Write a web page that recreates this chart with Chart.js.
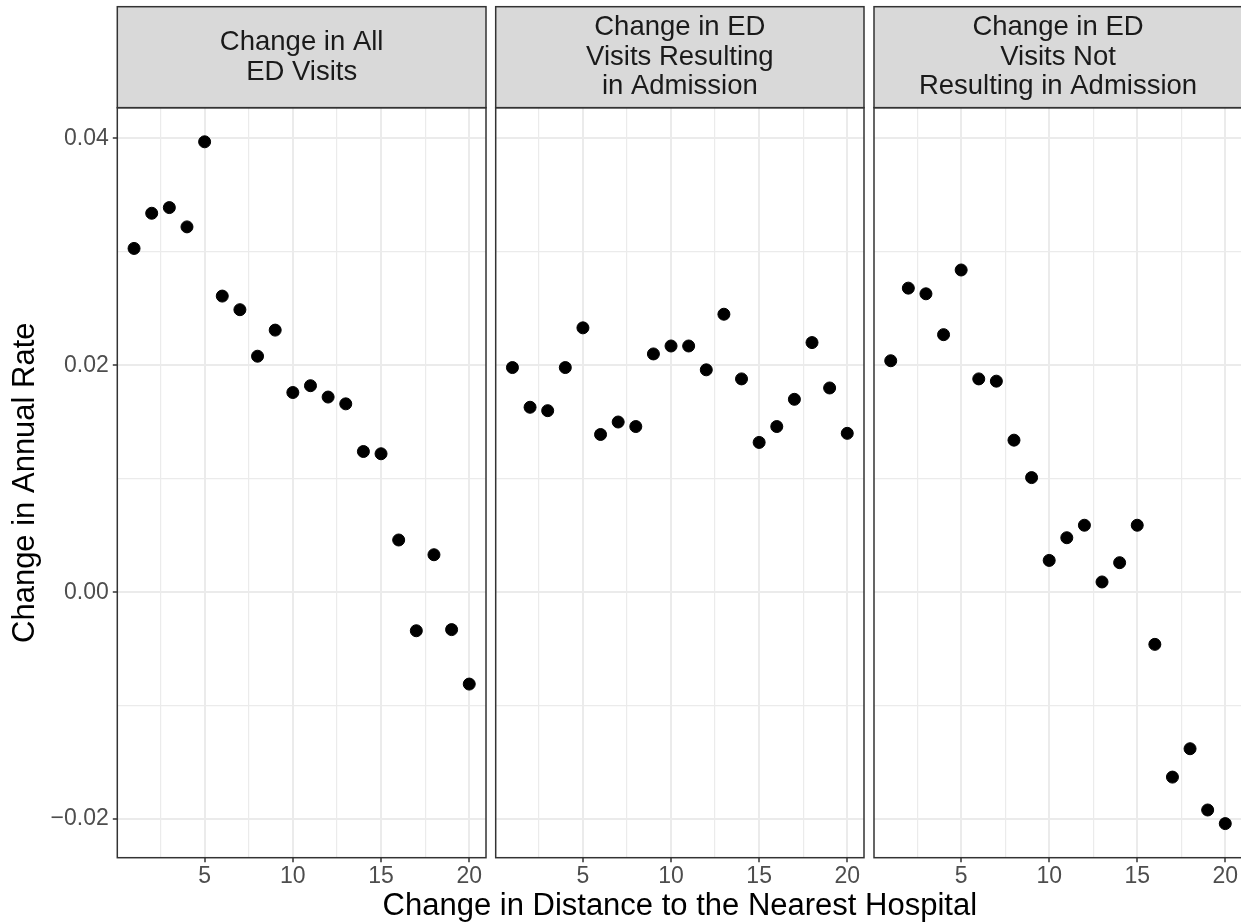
<!DOCTYPE html>
<html>
<head>
<meta charset="utf-8">
<title>Change in Annual Rate by Change in Distance</title>
<script src="https://cdn.jsdelivr.net/npm/chart.js@4.4.1/dist/chart.umd.min.js"></script>
<style>
  html, body { margin: 0; padding: 0; background: #fff; }
  #figure {
    position: relative;
    width: 1241px;
    height: 923px;
    overflow: hidden;
    font-family: "Liberation Sans", Arial, sans-serif;
  }
  #figure canvas { position: absolute; top: 0; }
  #x-title {
    position: absolute;
    left: 0;
    width: 1359.6px; /* centred on the panels (117 .. 1242) */
    top: 888.7px;
    font-size: 31px;
    line-height: 31px;
    text-align: center;
    color: #000;
    white-space: nowrap;
  }
</style>
</head>
<body>
<div id="figure">
  <canvas id="panel-all" width="490" height="923" style="left:0px"></canvas>
  <canvas id="panel-admit" width="378" height="923" style="left:490px"></canvas>
  <canvas id="panel-nonadmit" width="378" height="923" style="left:868px"></canvas>
  <div id="x-title">Change in Distance to the Nearest Hospital</div>
</div>

<script>
// Change in distance to the nearest hospital (x)
const distance = [1, 2, 3, 4, 5, 6, 7, 8, 9, 10, 11, 12, 13, 14, 15, 16, 17, 18, 19, 20];

// Change in annual rate, one series per facet
const allVisits = [0.0303, 0.0334, 0.0339, 0.0322, 0.0397, 0.0261, 0.0249, 0.0208, 0.0231, 0.0176,
                   0.0182, 0.0172, 0.0166, 0.0124, 0.0122, 0.0046, -0.0034, 0.0033, -0.0033, -0.0081];
const admittedVisits = [0.0198, 0.0163, 0.0160, 0.0198, 0.0233, 0.0139, 0.0150, 0.0146, 0.0210, 0.0217,
                        0.0217, 0.0196, 0.0245, 0.0188, 0.0132, 0.0146, 0.0170, 0.0220, 0.0180, 0.0140];
const nonAdmittedVisits = [0.0204, 0.0268, 0.0263, 0.0227, 0.0284, 0.0188, 0.0186, 0.0134, 0.0101, 0.0028,
                           0.0048, 0.0059, 0.0009, 0.0026, 0.0059, -0.0046, -0.0163, -0.0138, -0.0192, -0.0204];

// Facet strip labels
const stripAll = ['Change in All', 'ED Visits'];
const stripAdmit = ['Change in ED', 'Visits Resulting', 'in Admission'];
const stripNonAdmit = ['Change in ED', 'Visits Not', 'Resulting in Admission'];

// Breaks and tick labels
const xMajor = [5, 10, 15, 20];
const xMinor = [2.5, 7.5, 12.5, 17.5];
const xLabels = ['5', '10', '15', '20'];
const yMajor = [-0.02, 0, 0.02, 0.04];
const yMinor = [-0.01, 0.01, 0.03];
const yLabels = ['\u22120.02', '0.00', '0.02', '0.04'];

// Shared limits with a 5% expansion on each side
const allY = allVisits.concat(admittedVisits, nonAdmittedVisits);
const yLo = Math.min(...allY), yHi = Math.max(...allY);
const yMin = yLo - (yHi - yLo) * 0.05;
const yMax = yHi + (yHi - yLo) * 0.05;
const xLo = Math.min(...distance), xHi = Math.max(...distance);
const xMin = xLo - (xHi - xLo) * 0.05;
const xMax = xHi + (xHi - xLo) * 0.05;

const FONT = '"Liberation Sans", Arial, sans-serif';
const GRID = '#ebebeb';
const INK = '#333333';

// Draws the grey facet strip above the panel and the panel border
const facetStrip = {
    id: 'facetStrip',
    afterDraw(chart, args, opts) {
        const { ctx, chartArea: a } = chart;
        const w = a.right - a.left;
        ctx.save();
        ctx.fillStyle = '#d9d9d9';
        ctx.fillRect(a.left, opts.top, w, a.top - opts.top);
        ctx.strokeStyle = INK;
        ctx.lineWidth = 1.5;
        ctx.strokeRect(a.left, opts.top, w, a.top - opts.top);
        ctx.strokeRect(a.left, a.top, w, a.bottom - a.top);

        ctx.fillStyle = '#1a1a1a';
        ctx.font = '27.5px ' + FONT;
        ctx.textAlign = 'center';
        ctx.textBaseline = 'middle';
        const mid = (opts.top + a.top) / 2;
        const cx = (a.left + a.right) / 2;
        opts.lines.forEach((line, i) => {
            ctx.fillText(line, cx, mid + (i - (opts.lines.length - 1) / 2) * 29.5);
        });
        ctx.restore();
    }
};

function isMajor(list, v) {
    return list.some(m => Math.abs(m - v) < 1e-9);
}

function makePanel(id, values, stripLines, firstPanel, padLeft) {
    const points = distance.map((d, i) => ({ x: d, y: values[i] }));

    const config = {
        type: 'scatter',
        data: {
            datasets: [{
                data: points,
                pointRadius: 6,
                pointBorderWidth: 1,
                pointBackgroundColor: '#000',
                pointBorderColor: '#000',
                showLine: false
            }]
        },
        plugins: [facetStrip],
        options: {
            responsive: false,
            animation: false,
            devicePixelRatio: 1,
            layout: {
                autoPadding: false,
                padding: { left: padLeft, right: 4, top: 107.7, bottom: 0 }
            },
            plugins: {
                legend: { display: false },
                tooltip: { enabled: false },
                facetStrip: { top: 6.7, lines: stripLines }
            },
            scales: {
                x: {
                    type: 'linear',
                    min: xMin,
                    max: xMax,
                    afterBuildTicks: s => { s.ticks = xMinor.concat(xMajor).sort((a, b) => a - b).map(v => ({ value: v })); },
                    afterFit: s => { s.height = 65.3; },
                    border: { display: false },
                    grid: {
                        color: GRID,
                        lineWidth: c => (c.tick && isMajor(xMajor, c.tick.value)) ? 2 : 1.2,
                        tickLength: 4.5,
                        tickWidth: 1.5,
                        tickColor: c => (c.tick && isMajor(xMajor, c.tick.value)) ? INK : 'rgba(0,0,0,0)'
                    },
                    ticks: {
                        autoSkip: false,
                        maxRotation: 0,
                        padding: 1,
                        color: '#4d4d4d',
                        font: { family: FONT, size: 23 },
                        callback: v => {
                            const k = xMajor.findIndex(m => Math.abs(m - v) < 1e-9);
                            return k >= 0 ? xLabels[k] : '';
                        }
                    }
                },
                y: {
                    type: 'linear',
                    min: yMin,
                    max: yMax,
                    afterBuildTicks: s => { s.ticks = yMinor.concat(yMajor).sort((a, b) => a - b).map(v => ({ value: v })); },
                    afterFit: s => { s.width = firstPanel ? 117.3 : 0; },
                    border: { display: false },
                    grid: {
                        color: GRID,
                        lineWidth: c => (c.tick && isMajor(yMajor, c.tick.value)) ? 2 : 1.2,
                        drawTicks: firstPanel,
                        tickLength: 4.5,
                        tickWidth: 1.5,
                        tickColor: c => (c.tick && isMajor(yMajor, c.tick.value)) ? INK : 'rgba(0,0,0,0)'
                    },
                    ticks: {
                        display: firstPanel,
                        autoSkip: false,
                        padding: 4,
                        color: '#4d4d4d',
                        font: { family: FONT, size: 23 },
                        callback: v => {
                            const k = yMajor.findIndex(m => Math.abs(m - v) < 1e-9);
                            return k >= 0 ? yLabels[k] : '';
                        }
                    },
                    title: {
                        display: firstPanel,
                        text: 'Change in Annual Rate',
                        color: '#000',
                        font: { family: FONT, size: 31 },
                        padding: { top: 6.7, bottom: 0 }
                    }
                }
            }
        }
    };

    return new Chart(document.getElementById(id), config);
}

makePanel('panel-all', allVisits, stripAll, true, 0);
makePanel('panel-admit', admittedVisits, stripAdmit, false, 5.7);
makePanel('panel-nonadmit', nonAdmittedVisits, stripNonAdmit, false, 6);
</script>
</body>
</html>
